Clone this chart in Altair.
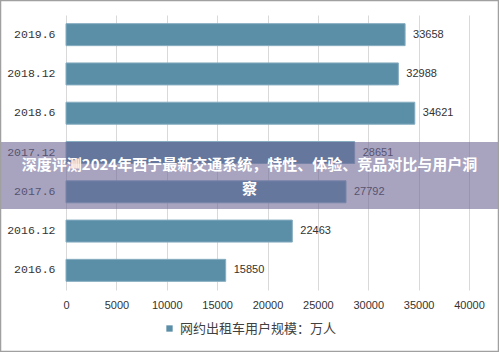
import altair as alt
import pandas as pd

periods = ["2019.6", "2018.12", "2018.6", "2017.12", "2017.6", "2016.12", "2016.6"]
users = [33658, 32988, 34621, 28651, 27792, 22463, 15850]
series_name = "网约出租车用户规模：万人"
x_ticks = [0, 5000, 10000, 15000, 20000, 25000, 30000, 35000, 40000]
title_lines = ["深度评测2024年西宁最新交通系统，特性、体验、竞品对比与用户洞", "察"]

df = pd.DataFrame({"period": periods, "users": users, "series": [series_name] * len(periods)})

BAR = "#5b8fa8"

y_enc = alt.Y("period:N", sort=periods, title=None,
              scale=alt.Scale(paddingInner=0.44, paddingOuter=0.22),
              axis=alt.Axis(domain=False, ticks=False, labelPadding=11,
                            labelFont="Liberation Mono", labelFontSize=11.5,
                            labelColor="#333333", grid=False))
x_enc = alt.X("users:Q", title=None,
              scale=alt.Scale(domain=[0, 40000], nice=False),
              axis=alt.Axis(values=x_ticks, domain=False, ticks=False, labelPadding=9,
                            labelFont="Liberation Sans", labelFontSize=11,
                            labelColor="#333333", grid=True, gridColor="#d9d9d9",
                            format="d", labelFlush=False))

bars = alt.Chart(df).mark_bar(stroke="#86adc0", strokeWidth=1).encode(
    y=y_enc, x=x_enc,
    color=alt.Color("series:N", scale=alt.Scale(range=[BAR]), title=None,
                    legend=alt.Legend(orient="none", legendX=97, legendY=307,
                                      symbolType="square", symbolSize=40,
                                      symbolStrokeWidth=0,
                                      labelFont="Noto Sans CJK SC", labelFontSize=13,
                                      labelColor="#404040", padding=0, labelOffset=4))
)

labels = alt.Chart(df).mark_text(align="left", baseline="middle", dx=8,
                                 font="Liberation Sans", fontSize=11, color="#333333").encode(
    y=alt.Y("period:N", sort=periods), x="users:Q", text="users:Q"
)

band = alt.Chart(pd.DataFrame({"k": [0]})).mark_rect(color="#6e6796", opacity=0.6).encode(
    x=alt.value(-66), x2=alt.value(433), y=alt.value(127), y2=alt.value(194)
)

title = alt.Chart(pd.DataFrame({"t": [title_lines]})).mark_text(
    align="center", baseline="middle", font="Noto Sans CJK SC", fontSize=15,
    fontWeight="bold", color="white", lineHeight=24
).encode(x=alt.value(183.5), y=alt.value(150), text="t")

frame = alt.Chart(pd.DataFrame({"k": [0]})).mark_rect(fill=None, stroke="#a0a0a0", strokeWidth=1.5).encode(
    x=alt.value(-65.5), x2=alt.value(432.5), y=alt.value(-14.5), y2=alt.value(336.5)
)

chart = alt.layer(bars, labels, band, title, frame).properties(
    width=403, height=275,
    autosize=alt.AutoSizeParams(type="none"),
    padding={"left": 66, "top": 15, "right": 30, "bottom": 62},
    background="white"
).configure_view(stroke=None)

chart.save("out.html", embed_options={"renderer": "svg", "actions": False})
